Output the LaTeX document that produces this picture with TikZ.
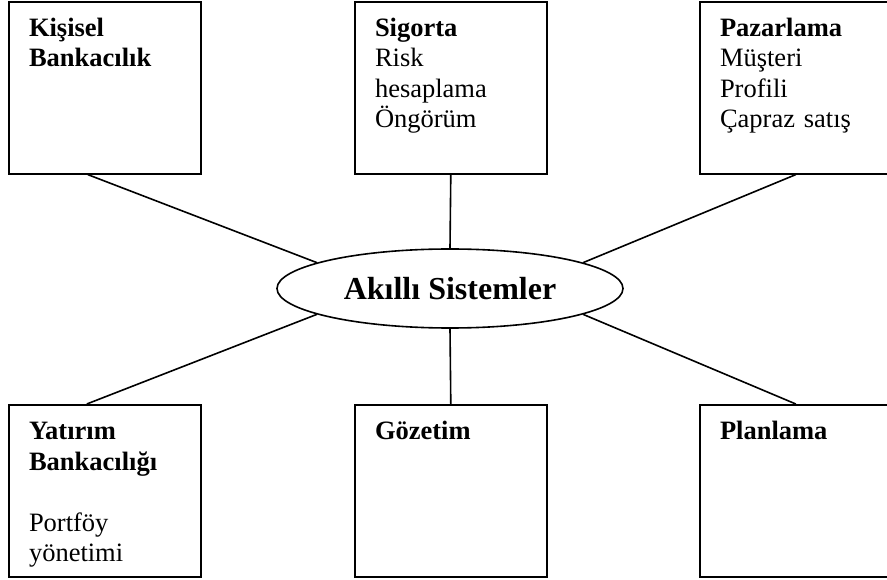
\documentclass[tikz,border=0pt]{standalone}
\usepackage{fontspec}
\setmainfont{Liberation Serif}
\usepackage{tikz}
\usetikzlibrary{shapes.geometric}

\begin{document}
\begin{tikzpicture}[x=1pt, y=-1pt, line width=1.6pt,
    kutu/.style={rectangle, draw, anchor=north west, inner sep=0pt, minimum width=192pt, minimum height=172pt},
    yazi/.style={anchor=base west, inner sep=0pt, text width=175pt, align=left, line width=0pt,
        font=\fontsize{26.5}{30.5}\selectfont, xshift=21pt, yshift=-35.5pt},
    merkez/.style={ellipse, draw, inner sep=0pt, minimum width=346pt, minimum height=79pt,
        font=\fontsize{32}{36}\selectfont\bfseries}]
    \useasboundingbox (0,0) rectangle (887,580);
    \node[kutu] (kisisel) at (8, 1) {};
    \node[kutu] (sigorta) at (354, 1) {};
    \node[kutu] (pazarlama) at (699, 1) {};
    \node[kutu] (yatirim) at (8, 404) {};
    \node[kutu] (gozetim) at (354, 404) {};
    \node[kutu] (planlama) at (699, 404) {};
    \node[yazi] (t1) at (kisisel.north west) {\textbf{Kişisel}\\\textbf{Bankacılık}};
    \node[yazi] (t2) at (sigorta.north west) {\textbf{Sigorta}\\Risk\\hesaplama\\Öngörüm};
    \node[yazi] (t3) at (pazarlama.north west) {\textbf{Pazarlama}\\Müşteri\\Profili\\Çapraz satış};
    \node[yazi] (t4) at (yatirim.north west) {\textbf{Yatırım}\\\textbf{Bankacılığı}\\[30.5pt]Portföy\\yönetimi};
    \node[yazi] (t5) at (gozetim.north west) {\textbf{Gözetim}};
    \node[yazi] (t6) at (planlama.north west) {\textbf{Planlama}};
    \node[merkez] (akilli) at (450, 288.5) {Akıllı Sistemler};
    \draw ([xshift=-17pt]kisisel.south) -- (akilli.169);
    \draw (sigorta.south) -- (akilli.north);
    \draw (pazarlama.south) -- (akilli.11);
    \draw ([xshift=-18pt]yatirim.north) -- (akilli.191);
    \draw (gozetim.north) -- (akilli.south);
    \draw (planlama.north) -- (akilli.349);
\end{tikzpicture}
\end{document}
